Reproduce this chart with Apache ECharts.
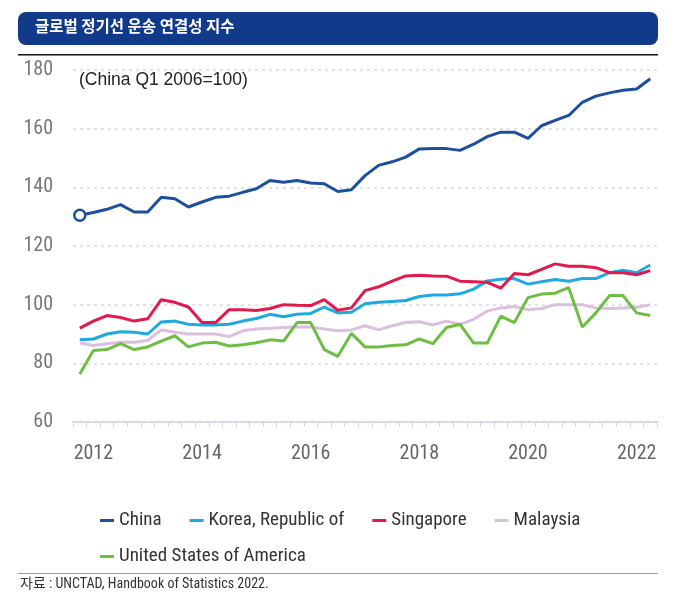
<!doctype html>
<html>

<head>
  <meta charset="utf-8">
  <title>글로벌 정기선 운송 연결성 지수</title>
  <script src="https://cdn.jsdelivr.net/npm/echarts/dist/echarts.min.js"></script>
  <style>
    html,
    body {
      width: 100%;
      height: 100%;
      background-color: #fff;
      padding: 0;
      margin: 0;
    }

    #main {
      width: 682px;
      height: 604px;
    }
  </style>
</head>

<body>
  <div id="main"></div>
</body>

<script type="text/javascript">
  // 분기 (2011 Q4 ~ 2022 Q2)
  var quarters = [
    '2011Q4',
    '2012Q1', '2012Q2', '2012Q3', '2012Q4',
    '2013Q1', '2013Q2', '2013Q3', '2013Q4',
    '2014Q1', '2014Q2', '2014Q3', '2014Q4',
    '2015Q1', '2015Q2', '2015Q3', '2015Q4',
    '2016Q1', '2016Q2', '2016Q3', '2016Q4',
    '2017Q1', '2017Q2', '2017Q3', '2017Q4',
    '2018Q1', '2018Q2', '2018Q3', '2018Q4',
    '2019Q1', '2019Q2', '2019Q3', '2019Q4',
    '2020Q1', '2020Q2', '2020Q3', '2020Q4',
    '2021Q1', '2021Q2', '2021Q3', '2021Q4',
    '2022Q1', '2022Q2'
  ];
  var seriesNames = ['China', 'Korea, Republic of', 'Singapore', 'Malaysia', 'United States of America'];
  var china = [130.5, 131.4, 132.5, 134.1, 131.6, 131.6, 136.6, 136.1, 133.3, 135, 136.6, 137, 138.3, 139.5,
    142.3, 141.7, 142.3, 141.5, 141.2, 138.6, 139.2, 144, 147.5, 148.7, 150.3, 153.1, 153.2, 153.2, 152.6,
    154.7, 157.3, 158.8, 158.8, 156.7, 161, 162.8, 164.5, 169, 171.1, 172.2, 173.1, 173.5, 177];
  var korea = [88, 88.3, 90, 90.8, 90.6, 90, 94.1, 94.4, 93.3, 93.1, 93.1, 93.3, 94.4, 95.3, 96.7, 95.9, 96.7,
    97, 99.2, 97.2, 97.4, 100.3, 100.8, 101.1, 101.4, 102.8, 103.3, 103.3, 103.7, 105.3, 108.1, 108.7, 108.9,
    107, 107.8, 108.6, 108, 108.9, 108.9, 110.9, 111.7, 110.9, 113.5];
  var singapore = [92, 94.4, 96.3, 95.6, 94.4, 95.2, 101.7, 100.8, 99.2, 93.9, 93.9, 98.3, 98.3, 98, 98.7, 100,
    99.8, 99.7, 101.7, 98.1, 98.9, 104.8, 106.1, 108, 109.8, 110, 109.8, 109.7, 108, 107.8, 107.6, 105.6, 110.6,
    110.2, 112, 113.9, 113.1, 113.1, 112.6, 110.9, 110.9, 110.2, 111.6];
  var malaysia = [86.9, 86.1, 86.7, 87.2, 87.2, 87.8, 91.4, 90.6, 90, 90, 90, 89.1, 91.1, 91.7, 92, 92.2, 92.4,
    92.4, 91.7, 91.1, 91.4, 92.8, 91.4, 92.8, 93.9, 94.2, 93.1, 94.4, 93.3, 95, 97.8, 98.9, 99.4, 98.3, 98.7,
    100, 100, 100, 98.9, 98.7, 98.9, 99.1, 100];
  var usa = [76.4, 84.4, 84.7, 86.7, 84.7, 85.6, 87.6, 89.4, 85.6, 86.9, 87.2, 85.9, 86.3, 87, 88, 87.6, 93.9,
    93.9, 84.7, 82.4, 90.2, 85.6, 85.6, 86.1, 86.3, 88.3, 86.7, 92.2, 93.3, 86.9, 86.9, 96.1, 93.9, 102.4,
    103.6, 103.9, 105.8, 92.4, 97.2, 103.1, 103.1, 97.2, 96.3];
  var colors = ['#1c4f9c', '#20a9e1', '#e2194d', '#dbbfdf', '#6fbe44'];

  var narrow = "'Roboto Condensed', 'Noto Sans CJK KR', sans-serif";

  function line(name, data, color) {
    return {
      name: name,
      type: 'line',
      data: data,
      symbol: 'none',
      showSymbol: true,
      showAllSymbol: true,
      lineStyle: { width: 3, color: color },
      itemStyle: { color: color },
      emphasis: { disabled: true },
      animation: false
    };
  }

  // China 첫 점에만 빈 원 표시
  var chinaData = china.map(function (v, i) {
    if (i === 0) {
      return { value: v, symbol: 'circle', symbolSize: 11, itemStyle: { color: '#fff', borderColor: colors[0], borderWidth: 2.5 } };
    }
    return v;
  });

  var option = {
    animation: false,
    grid: { left: 73, right: 25, top: 70, bottom: 182 },
    legend: [
      {
        data: seriesNames.slice(0, 4),
        left: 95, top: 506,
        icon: 'rect', itemWidth: 14, itemHeight: 3, itemGap: 28,
        textStyle: { fontFamily: narrow, fontSize: 19, color: '#333' }
      },
      {
        data: seriesNames.slice(4),
        left: 95, top: 542,
        icon: 'rect', itemWidth: 14, itemHeight: 3,
        textStyle: { fontFamily: narrow, fontSize: 19, color: '#333' }
      }
    ],
    xAxis: {
      type: 'category',
      data: quarters,
      boundaryGap: true,
      axisLine: { lineStyle: { color: '#cfd0ea', width: 1.5 } },
      axisTick: { show: true, interval: 0, length: 5, lineStyle: { color: '#cfd0ea' } },
      axisLabel: {
        interval: function (i) { return i % 8 === 1; },
        formatter: function (v) { return v.slice(0, 4); },
        margin: 22,
        fontFamily: narrow, fontSize: 20, color: '#666'
      },
      splitLine: { show: false }
    },
    yAxis: {
      type: 'value',
      min: 60, max: 180, interval: 20,
      axisLine: { show: false },
      axisTick: { show: false },
      axisLabel: { margin: 20, fontFamily: narrow, fontSize: 20, color: '#777' },
      splitLine: { lineStyle: { color: '#d9d9d9', width: 1.5, type: [3, 4] } }
    },
    graphic: [
      {
        type: 'rect', left: 18, top: 12,
        shape: { width: 640, height: 33, r: 8 },
        style: { fill: '#123a8a' }
      },
      {
        type: 'text', left: 35, top: 18,
        style: { text: '글로벌 정기선 운송 연결성 지수', fill: '#fff', font: "bold 15.5px 'Noto Sans CJK KR'" }
      },
      {
        type: 'rect', left: 18, top: 54,
        shape: { width: 640, height: 1.5 },
        style: { fill: '#111' }
      },
      {
        type: 'text', left: 79, top: 71,
        style: { text: '(China Q1 2006=100)', fill: '#222', font: "17.5px 'Liberation Sans', 'Noto Sans', sans-serif" }
      },
      {
        type: 'rect', left: 18, top: 573,
        shape: { width: 640, height: 1 },
        style: { fill: '#999' }
      },
      {
        type: 'text', left: 20, top: 577,
        style: { text: '자료 : UNCTAD, Handbook of Statistics 2022.', fill: '#333', font: "14px 'Roboto Condensed', 'Noto Sans CJK KR', sans-serif" }
      }
    ],
    series: [
      line(seriesNames[0], chinaData, colors[0]),
      line(seriesNames[1], korea, colors[1]),
      line(seriesNames[2], singapore, colors[2]),
      line(seriesNames[3], malaysia, colors[3]),
      line(seriesNames[4], usa, colors[4])
    ]
  };

  var myChart = echarts.init(document.getElementById('main'));
  myChart.setOption(option);
</script>

</html>
